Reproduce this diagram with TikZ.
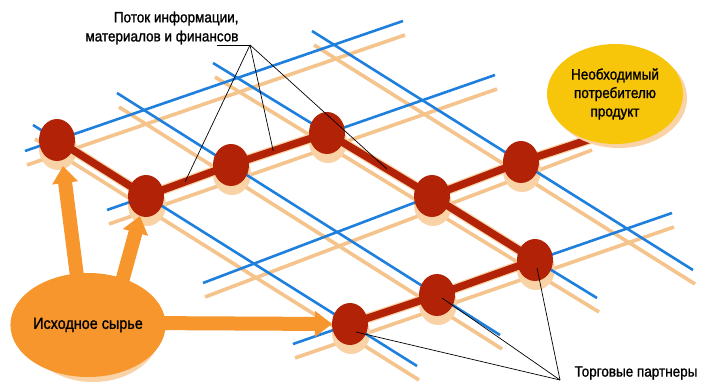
\documentclass[tikz,border=0pt]{standalone}
\usepackage{fontspec}
\newfontfamily\lblfont[FakeStretch=0.9,FakeBold=1.2]{Liberation Sans}
\usetikzlibrary{shapes.geometric,arrows.meta,calc}
\definecolor{gblue}{RGB}{30,128,220}
\definecolor{gtan}{RGB}{245,195,140}
\definecolor{ltan}{RGB}{249,210,166}
\definecolor{dred}{RGB}{178,34,6}
\definecolor{orng}{RGB}{247,150,45}
\definecolor{yell}{RGB}{247,198,10}
\newcommand{\netlines}[1]{%
  \draw[#1] (25,151) -- (403,21);
  \draw[#1] (107,210) -- (495,75);
  \draw[#1] (203,283) -- (590,136);
  \draw[#1] (293,344) -- (672,213);
  \draw[#1] (33,125) -- (417,366);
  \draw[#1] (117,93) -- (500,335);
  \draw[#1] (213,63) -- (597,298);
  \draw[#1] (312,31) -- (693,270);}
\begin{document}
\begin{tikzpicture}[x=1pt,y=-1pt,
  gridb/.style={gblue,line width=2.6pt},
  gridt/.style={gtan,line width=3.6pt},
  flow/.style={dred,line width=7.5pt,line cap=round,line join=round},
  flowshadow/.style={ltan,line width=10pt,line cap=round,line join=round},
  partner/.style={ellipse,fill=dred,minimum width=36pt,minimum height=42pt,inner sep=0pt},
  leader/.style={black,line width=0.7pt},
  bigarrow/.style={orng,line width=14pt,-{Triangle[width=25pt,length=17pt]}},
  lbl/.style={font=\lblfont\fontsize{15}{19}\selectfont,text=black}]
\useasboundingbox (0,0) rectangle (712,381);
\fill[white] (0,0) rectangle (712,381);
% grid shadows
\begin{scope}[shift={(2,14)}]
  \netlines{gridt}
\end{scope}
% node centres
\coordinate (c1) at (57,140);
\coordinate (c2) at (146,196);
\coordinate (c3) at (231,165);
\coordinate (c4) at (327,133);
\coordinate (c5) at (432,196);
\coordinate (c6) at (521,162);
\coordinate (c7) at (535,260);
\coordinate (c8) at (437,295);
\coordinate (c9) at (350,324);
\coordinate (pend) at (600,136);
% flow shadow
\begin{scope}[shift={(1,12)}]
  \draw[flowshadow] (c1) -- (c2) -- (c3) -- (c4) -- (c5) -- (c6) -- (pend);
  \draw[flowshadow] (c5) -- (c7) -- (c8) -- (c9);
\end{scope}
\foreach \i in {1,...,9}{
  \fill[ltan] ($(c\i)+(1,9)$) ellipse [x radius=19, y radius=21];
}
% blue grid
\netlines{gridb}
% flow
\draw[flow] (c1) -- (c2) -- (c3) -- (c4) -- (c5) -- (c6) -- (pend);
\draw[flow] (c5) -- (c7) -- (c8) -- (c9);
\foreach \i in {1,...,9}{
  \node[partner] (n\i) at (c\i) {};
}
% raw material
\fill[ltan] (93,330) ellipse [x radius=68, y radius=52];
\coordinate (a1s) at (80,300);
\coordinate (a1e) at (63,166);
\coordinate (a2s) at (117,300);
\coordinate (a2e) at (140,216);
\coordinate (a3s) at (140,323);
\coordinate (a3e) at (332,324);
\draw[bigarrow] (a1s) -- (a1e);
\draw[bigarrow] (a2s) -- (a2e);
\draw[bigarrow] (a3s) -- (a3e);
\node[ellipse,fill=orng,minimum width=136pt,minimum height=104pt,inner sep=0pt,lbl,font=\lblfont\fontsize{16}{19}\selectfont] (src) at (88,325) {Исходное сырье};
% product
\fill[ltan] (619,98) ellipse [x radius=68, y radius=50];
\node[ellipse,fill=yell,minimum width=136pt,minimum height=100pt,inner sep=0pt,lbl,align=center,font=\lblfont\fontsize{15}{18.5}\selectfont] (prod) at (615,94) {Необходимый\\потребителю\\продукт};
% labels
\node[lbl,anchor=east,align=right] (flowlbl) at (242,28) {Поток информации,\\материалов и финансов};
\node[lbl,anchor=west] (trade) at (571,373) {Торговые партнеры};
% leaders
\coordinate (apex1) at (250,45);
\coordinate (h1) at (217,45);
\draw[leader] (h1) -- (apex1);
\draw[leader] (apex1) -- ($(n2.center)!0.46!(n3.center)$);
\draw[leader] (apex1) -- ($(n3.center)!0.44!(n4.center)$);
\draw[leader] (apex1) -- ($(n4.center)!0.57!(n5.center)$);
\coordinate (apex2) at (560,380);
\draw[leader] (apex2) -- ($(n9.center)+(6,8)$);
\draw[leader] (apex2) -- ($(n8.center)+(5,3)$);
\draw[leader] (apex2) -- ($(n7.center)+(2,8)$);
\end{tikzpicture}
\end{document}
